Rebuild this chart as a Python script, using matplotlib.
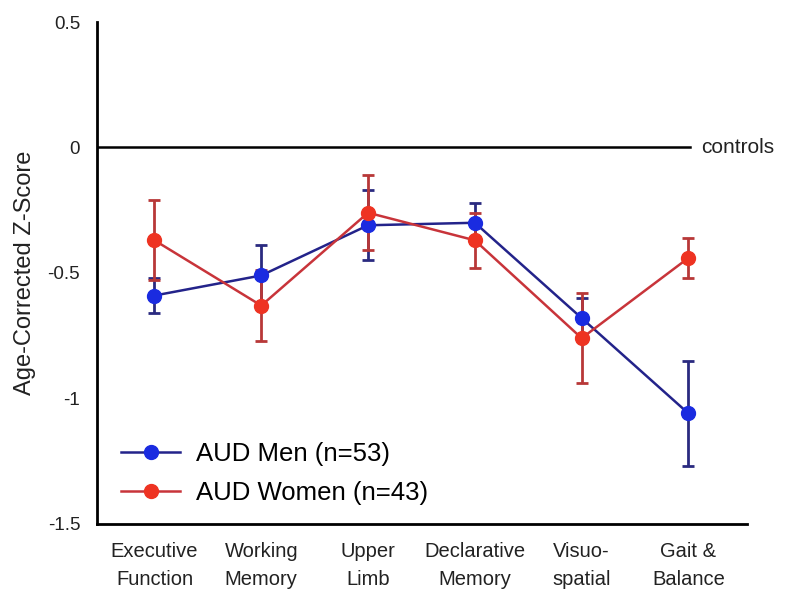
import numpy as np
import matplotlib.pyplot as plt
from matplotlib.lines import Line2D

plt.rcParams['font.family'] = ['Liberation Sans', 'DejaVu Sans']

domains = ["Executive\nFunction", "Working\nMemory", "Upper\nLimb",
           "Declarative\nMemory", "Visuo-\nspatial", "Gait &\nBalance"]
men_mean = [-0.59, -0.51, -0.31, -0.30, -0.68, -1.06]
men_err = [0.07, 0.12, 0.14, 0.08, 0.08, 0.21]
women_mean = [-0.37, -0.63, -0.26, -0.37, -0.76, -0.44]
women_err = [0.16, 0.14, 0.15, 0.11, 0.18, 0.08]

x = np.arange(len(domains))

fig = plt.figure(figsize=(8, 6.12), dpi=100)
ax = fig.add_axes([0.121, 0.144, 0.813, 0.82])

ax.axhline(0, xmin=0, xmax=0.912, color="black", linewidth=1.8, zorder=1)
ax.text(5.12, 0, "controls", va="center", ha="left", fontsize=15,
        color="#222222", clip_on=False)

men_style = dict(color="#23238a", marker="o", markersize=10,
                 markerfacecolor="#1a2be0", markeredgecolor="#1a2be0")
women_style = dict(color="#c8343a", marker="o", markersize=10,
                   markerfacecolor="#ee3322", markeredgecolor="#ee3322")

ax.errorbar(x, men_mean, yerr=men_err, linewidth=1.8, ecolor="#2a2a80",
            elinewidth=2, capsize=4, capthick=2, zorder=3, **men_style)
ax.errorbar(x, women_mean, yerr=women_err, linewidth=1.8, ecolor="#b83838",
            elinewidth=2, capsize=4, capthick=2, zorder=3, **women_style)

ax.set_xlim(-0.54, 5.55)
ax.set_ylim(-1.5, 0.5)
ax.set_yticks([0.5, 0, -0.5, -1, -1.5])
ax.set_yticklabels(["0.5", "0", "-0.5", "-1", "-1.5"])
ax.set_xticks(x)
ax.set_xticklabels(domains, fontsize=14.5, color="#222222", linespacing=1.6)
ax.tick_params(axis="y", length=0, pad=12, labelsize=13.5, labelcolor="#222222")
ax.tick_params(axis="x", length=0, pad=13)
ax.set_ylabel("Age-Corrected Z-Score", fontsize=17, labelpad=8, color="#222222")

for side in ["top", "right"]:
    ax.spines[side].set_visible(False)
for side in ["left", "bottom"]:
    ax.spines[side].set_linewidth(2)

handles = [Line2D([], [], linewidth=1.8, **men_style),
           Line2D([], [], linewidth=1.8, **women_style)]
ax.legend(handles, ["AUD Men (n=53)", "AUD Women (n=43)"], loc="lower left",
          frameon=False, fontsize=18.5, handlelength=2.3, handletextpad=0.6,
          labelspacing=0.6, borderaxespad=0.0, bbox_to_anchor=(0.022, 0.017))

fig.savefig("out.png", dpi=100)
